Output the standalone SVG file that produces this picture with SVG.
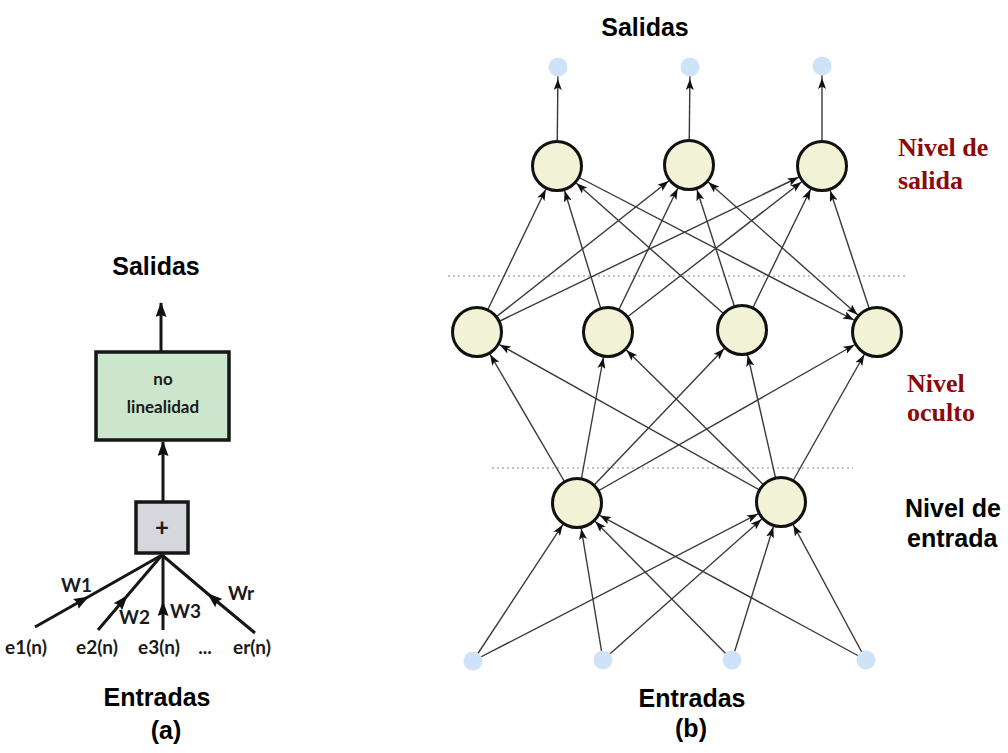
<svg xmlns="http://www.w3.org/2000/svg" width="1008" height="753" viewBox="0 0 1008 753">
  <style>
    .title { font-family: "Liberation Sans", Arial, sans-serif; font-weight: bold; font-size: 25px; fill: #000; text-anchor: middle; }
    .lvl-red { font-family: "Liberation Serif", "Times New Roman", serif; font-weight: bold; font-size: 26px; fill: #8b0a0a; }
    .lvl-blk { font-family: "Liberation Sans", Arial, sans-serif; font-weight: bold; font-size: 25px; fill: #000; }
    .hum { font-family: Lato, "Open Sans", sans-serif; font-weight: bold; fill: #1a1a1a; }
    .neuron { fill: #f2f2d6; stroke: #111; stroke-width: 3; }
    .dot { fill: #cfe3f8; }
    .sep { stroke: #888; stroke-width: 1.2; stroke-dasharray: 2 3; }
    .wire { stroke: #3a3a3a; stroke-width: 1.4; fill: none; marker-end: url(#ahNode); }
    .wire2 { stroke: #3a3a3a; stroke-width: 1.4; fill: none; marker-start: url(#ahNode); marker-end: url(#ahNode); }
    .wireDot { stroke: #3a3a3a; stroke-width: 1.4; fill: none; marker-end: url(#ahDot); }
    .thick { stroke: #161616; stroke-width: 3; fill: none; }
    .box { stroke: #161616; stroke-width: 3.5; }
  </style>
  <defs>
    <!-- arrowhead stopping at the rim of a neuron (r ~ 26) -->
    <marker id="ahNode" viewBox="0 0 40 8" refX="37" refY="4" markerWidth="40" markerHeight="8" markerUnits="userSpaceOnUse" orient="auto-start-reverse">
      <path d="M0,0 L11,4 L0,8 L2.5,4 z" fill="#111"/>
    </marker>
    <!-- arrowhead stopping at the rim of an output dot -->
    <marker id="ahDot" viewBox="0 0 30 8" refX="23" refY="4" markerWidth="30" markerHeight="8" markerUnits="userSpaceOnUse" orient="auto">
      <path d="M0,0 L11,4 L0,8 L2.5,4 z" fill="#111"/>
    </marker>
    <!-- heavier arrowhead for the single-neuron sketch -->
    <marker id="ahBig" viewBox="0 0 15 11" refX="14" refY="5.5" markerWidth="15" markerHeight="11" markerUnits="userSpaceOnUse" orient="auto">
      <path d="M0,0 L15,5.5 L0,11 L2,5.5 z" fill="#111"/>
    </marker>
    <marker id="ahMid" viewBox="0 0 15 11" refX="14" refY="5.5" markerWidth="15" markerHeight="11" markerUnits="userSpaceOnUse" orient="auto">
      <path d="M0,0 L15,5.5 L0,11 L2,5.5 z" fill="#111"/>
    </marker>
  </defs>

  <!-- ===== (a) single neuron ===== -->
  <text class="title" x="156" y="275">Salidas</text>

  <g id="a-connectors">
    <line class="thick" x1="161" y1="352" x2="161" y2="303" marker-end="url(#ahBig)"/>
    <line class="thick" x1="163" y1="502" x2="163" y2="442" marker-end="url(#ahBig)"/>
    <path class="thick" d="M35,627 L88,597 L162,555" marker-mid="url(#ahMid)"/>
    <path class="thick" d="M98,630 L127,596 L162,555" marker-mid="url(#ahMid)"/>
    <path class="thick" d="M163,630 L163,602 L163,555" marker-mid="url(#ahMid)"/>
    <path class="thick" d="M255,633 L208,594 L162,555" marker-mid="url(#ahMid)"/>
  </g>

  <g id="nonlinearity">
    <rect class="box" x="96" y="352" width="133" height="88" fill="#cbe6cc"/>
    <text class="hum" x="163" y="385" font-size="17" text-anchor="middle">no</text>
    <text class="hum" x="163" y="413" font-size="17" text-anchor="middle">linealidad</text>
  </g>

  <g id="summation">
    <rect class="box" x="136" y="502" width="52" height="51" fill="#d6d7dd"/>
    <text class="hum" x="162" y="536" font-size="24" text-anchor="middle">+</text>
  </g>

  <g id="a-labels">
    <text class="hum" x="61" y="592" font-size="19">W1</text>
    <text class="hum" x="119" y="624" font-size="19">W2</text>
    <text class="hum" x="170" y="618" font-size="19">W3</text>
    <text class="hum" x="228" y="600" font-size="19">Wr</text>
    <text class="hum" x="26" y="654" font-size="19" text-anchor="middle">e1(n)</text>
    <text class="hum" x="97" y="654" font-size="19" text-anchor="middle">e2(n)</text>
    <text class="hum" x="159" y="654" font-size="19" text-anchor="middle">e3(n)</text>
    <text class="hum" x="205" y="654" font-size="19" text-anchor="middle">...</text>
    <text class="hum" x="252" y="654" font-size="19" text-anchor="middle">er(n)</text>
  </g>

  <text class="title" x="157" y="706">Entradas</text>
  <text class="title" x="166" y="739">(a)</text>

  <!-- ===== (b) multilayer network ===== -->
  <text class="title" x="645" y="36">Salidas</text>

  <line class="sep" x1="448" y1="276" x2="905" y2="276"/>
  <line class="sep" x1="492" y1="468" x2="853" y2="468"/>

  <g id="b-connectors">
    <!-- outputs to output dots -->
    <line class="wireDot" x1="557" y1="166" x2="558" y2="67"/>
    <line class="wireDot" x1="689" y1="165" x2="690" y2="67"/>
    <line class="wireDot" x1="822" y1="166" x2="822" y2="66"/>
    <!-- hidden to output -->
    <line class="wire" x1="477" y1="332" x2="557" y2="166"/>
    <line class="wire" x1="477" y1="332" x2="689" y2="165"/>
    <line class="wire" x1="477" y1="332" x2="822" y2="166"/>
    <line class="wire" x1="608" y1="332" x2="557" y2="166"/>
    <line class="wire" x1="608" y1="332" x2="689" y2="165"/>
    <line class="wire" x1="608" y1="332" x2="822" y2="166"/>
    <line class="wire" x1="742" y1="330" x2="557" y2="166"/>
    <line class="wire" x1="742" y1="330" x2="689" y2="165"/>
    <line class="wire" x1="742" y1="330" x2="822" y2="166"/>
    <line class="wire" x1="877" y1="332" x2="822" y2="166"/>
    <line class="wire" x1="557" y1="166" x2="877" y2="332"/>
    <line class="wire2" x1="877" y1="332" x2="689" y2="165"/>
    <!-- input layer to hidden -->
    <line class="wire" x1="577" y1="503" x2="477" y2="332"/>
    <line class="wire" x1="577" y1="503" x2="608" y2="332"/>
    <line class="wire" x1="577" y1="503" x2="742" y2="330"/>
    <line class="wire" x1="577" y1="503" x2="877" y2="332"/>
    <line class="wire" x1="781" y1="502" x2="477" y2="332"/>
    <line class="wire" x1="781" y1="502" x2="608" y2="332"/>
    <line class="wire" x1="781" y1="502" x2="742" y2="330"/>
    <line class="wire" x1="781" y1="502" x2="877" y2="332"/>
    <!-- input dots to input layer -->
    <line class="wire" x1="473" y1="661" x2="577" y2="503"/>
    <line class="wire" x1="603" y1="660" x2="577" y2="503"/>
    <line class="wire" x1="732" y1="660" x2="577" y2="503"/>
    <line class="wire" x1="866" y1="660" x2="577" y2="503"/>
    <line class="wire" x1="473" y1="661" x2="781" y2="502"/>
    <line class="wire" x1="603" y1="660" x2="781" y2="502"/>
    <line class="wire" x1="732" y1="660" x2="781" y2="502"/>
    <line class="wire" x1="866" y1="660" x2="781" y2="502"/>
  </g>

  <g id="out-dot-1"><circle class="dot" cx="558" cy="67" r="9.5"/></g>
  <g id="out-dot-2"><circle class="dot" cx="690" cy="67" r="9.5"/></g>
  <g id="out-dot-3"><circle class="dot" cx="822" cy="66" r="9.5"/></g>

  <g id="out-1"><circle class="neuron" cx="557" cy="166" r="24.5"/></g>
  <g id="out-2"><circle class="neuron" cx="689" cy="165" r="24.5"/></g>
  <g id="out-3"><circle class="neuron" cx="822" cy="166" r="24.5"/></g>

  <g id="hid-1"><circle class="neuron" cx="477" cy="332" r="24.5"/></g>
  <g id="hid-2"><circle class="neuron" cx="608" cy="332" r="24.5"/></g>
  <g id="hid-3"><circle class="neuron" cx="742" cy="330" r="24.5"/></g>
  <g id="hid-4"><circle class="neuron" cx="877" cy="332" r="24.5"/></g>

  <g id="in-1"><circle class="neuron" cx="577" cy="503" r="24.5"/></g>
  <g id="in-2"><circle class="neuron" cx="781" cy="502" r="24.5"/></g>

  <g id="in-dot-1"><circle class="dot" cx="473" cy="661" r="9.5"/></g>
  <g id="in-dot-2"><circle class="dot" cx="603" cy="660" r="9.5"/></g>
  <g id="in-dot-3"><circle class="dot" cx="732" cy="660" r="9.5"/></g>
  <g id="in-dot-4"><circle class="dot" cx="866" cy="660" r="9.5"/></g>

  <g id="level-labels">
    <text class="lvl-red" x="898" y="156">Nivel de</text>
    <text class="lvl-red" x="898" y="189">salida</text>
    <text class="lvl-red" x="907" y="392">Nivel</text>
    <text class="lvl-red" x="907" y="421">oculto</text>
    <text class="lvl-blk" x="905" y="517">Nivel de</text>
    <text class="lvl-blk" x="907" y="547">entrada</text>
  </g>

  <text class="title" x="692" y="707">Entradas</text>
  <text class="title" x="691" y="737">(b)</text>
</svg>
